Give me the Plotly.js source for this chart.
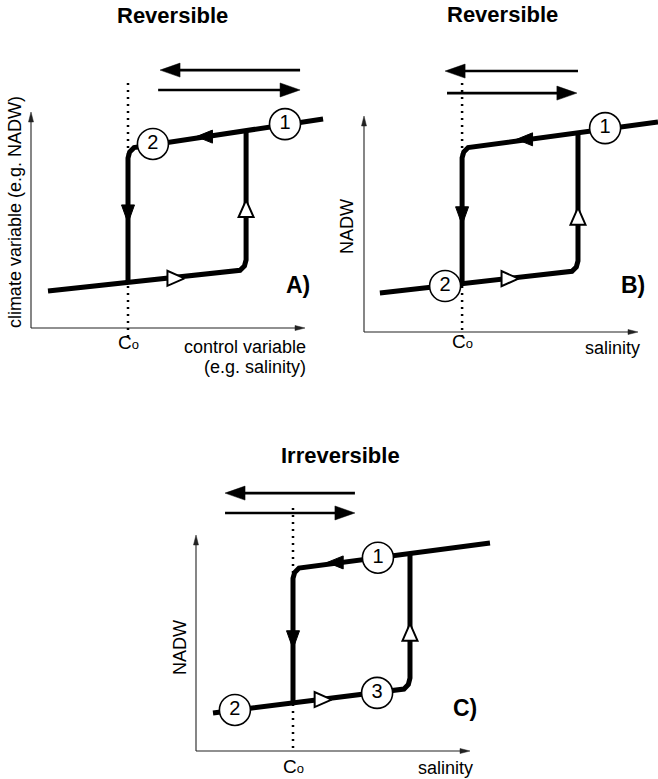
<!DOCTYPE html>
<html><head><meta charset="utf-8">
<script src="https://cdn.plot.ly/plotly-3.0.1.min.js"></script>
<style>html,body{margin:0;padding:0;background:#fff;}#chart{width:658px;height:779px;}</style>
</head><body><div id="chart"></div>
<script>
// ---------- DATA (axis units: origin = 0, axis arrow tip = 10) ----------
// Panel A
const A_upperX = [10.66, 3.98, 3.76, 3.60, 3.54, 3.54];
const A_upperY = [9.68, 8.43, 8.35, 8.15, 7.87, 2.10];
const A_lowerX = [0.62, 7.34, 7.63, 7.79, 7.85, 7.85];
const A_lowerY = [1.71, 2.59, 2.67, 2.87, 3.15, 9.12];
const A_stateX = [9.27, 4.45];
const A_stateY = [9.44, 8.52];
const A_stateLabel = ['1', '2'];
const A_flowX = [3.54, 7.85, 6.33, 5.29];
const A_flowY = [5.28, 5.53, 8.86, 2.30];
const A_flowDir = ['down', 'up', 'left', 'right'];
const A_Co = 3.54;
const A_CoSpan = [11.34, -0.42];
const A_sweepFrom = [9.82, 4.64];
const A_sweepTo = [4.71, 9.82];
const A_sweepY = [11.94, 11.02];

// Panel B
const B_upperX = [10.73, 4.01, 3.80, 3.64, 3.58, 3.58];
const B_upperY = [9.72, 8.61, 8.54, 8.33, 8.06, 2.22];
const B_lowerX = [0.58, 7.37, 7.59, 7.75, 7.81, 7.81];
const B_lowerY = [1.81, 2.73, 2.81, 3.01, 3.29, 9.28];
const B_stateX = [8.80, 2.96];
const B_stateY = [9.44, 2.13];
const B_stateLabel = ['1', '2'];
const B_flowX = [3.58, 7.81, 5.86, 5.33];
const B_flowY = [5.38, 5.36, 8.92, 2.47];
const B_flowDir = ['down', 'up', 'left', 'right'];
const B_Co = 3.58;
const B_CoSpan = [11.53, -0.37];
const B_sweepFrom = [7.81, 3.03];
const B_sweepTo = [2.96, 7.77];
const B_sweepY = [12.08, 11.06];

// Panel C
const C_upperX = [10.73, 3.98, 3.76, 3.60, 3.54, 3.54];
const C_upperY = [9.63, 8.56, 8.47, 8.26, 7.99, 2.19];
const C_lowerX = [0.62, 3.54, 7.37, 7.59, 7.75, 7.81, 7.81];
const C_lowerY = [1.76, 2.22, 2.80, 2.87, 3.08, 3.38, 9.18];
const C_stateX = [6.64, 1.42, 6.61];
const C_stateY = [8.95, 1.90, 2.69];
const C_stateLabel = ['1', '2', '3'];
const C_flowX = [3.54, 7.81, 5.08, 4.64];
const C_flowY = [5.15, 5.50, 8.73, 2.38];
const C_flowDir = ['down', 'up', 'left', 'right'];
const C_Co = 3.54;
const C_CoSpan = [11.25, -0.05];
const C_sweepFrom = [5.80, 1.06];
const C_sweepTo = [1.06, 5.80];
const C_sweepY = [11.94, 11.02];

const titles = ['Reversible', 'Reversible', 'Irreversible'];
const panelLetters = ['A)', 'B)', 'C)'];
const yLabels = ['climate variable (e.g. NADW)', 'NADW', 'NADW'];
const xLabels = [['control variable', '(e.g. salinity)'], ['salinity'], ['salinity']];
const coLabel = 'C<span style="font-size:13px">o</span>';

// ---------- LAYOUT ----------
const W = 658, H = 779, SX = 27.4, SY = 21.6;
const FONT = 'Liberation Sans, Arial, Helvetica, sans-serif';

const panels = [
  {sfx: '', box: [0, 0, 329, 389.5], origin: [31, 328],
   up: [A_upperX, A_upperY], lo: [A_lowerX, A_lowerY], st: [A_stateX, A_stateY, A_stateLabel],
   fl: [A_flowX, A_flowY, A_flowDir], co: A_Co, coSpan: A_CoSpan, sw: [A_sweepFrom, A_sweepTo, A_sweepY],
   titlePos: [5.18, 14.49], coY: -0.69, xlabPos: [10.11, -0.88, -1.81], ylabPos: [-0.58, 5.37], letterPos: [9.74, 1.99]},
  {sfx: '2', box: [329, 0, 658, 389.5], origin: [364, 332],
   up: [B_upperX, B_upperY], lo: [B_lowerX, B_lowerY], st: [B_stateX, B_stateY, B_stateLabel],
   fl: [B_flowX, B_flowY, B_flowDir], co: B_Co, coSpan: B_CoSpan, sw: [B_sweepFrom, B_sweepTo, B_sweepY],
   titlePos: [5.04, 14.68], coY: -0.46, xlabPos: [10.15, -0.74], ylabPos: [-0.62, 4.86], letterPos: [9.82, 2.18]},
  {sfx: '3', box: [0, 389.5, 658, 779], origin: [196, 751],
   up: [C_upperX, C_upperY], lo: [C_lowerX, C_lowerY], st: [C_stateX, C_stateY, C_stateLabel],
   fl: [C_flowX, C_flowY, C_flowDir], co: C_Co, coSpan: C_CoSpan, sw: [C_sweepFrom, C_sweepTo, C_sweepY],
   titlePos: [5.26, 13.66], coY: -0.74, xlabPos: [10.18, -0.79], ylabPos: [-0.58, 4.77], letterPos: [9.82, 1.99]}
];

const DIRS = {up: [0, 1], down: [0, -1], left: [-1, 0], right: [1, 0]};

// triangle polygon (center cx,cy in units; length/width in px)
function tri(cx, cy, dir, len, wid) {
  const [ux, uy] = DIRS[dir];
  const tipX = cx + ux * len / 2 / SX, tipY = cy + uy * len / 2 / SY;
  const bX = cx - ux * len / 2 / SX, bY = cy - uy * len / 2 / SY;
  const px = -uy * wid / 2 / SX, py = ux * wid / 2 / SY;
  return {x: [tipX, bX + px, bX - px, tipX], y: [tipY, bY + py, bY - py, tipY]};
}

const traces = [];
const annotations = [];
const layout = {
  width: W, height: H, margin: {l: 0, r: 0, t: 0, b: 0},
  paper_bgcolor: '#fff', plot_bgcolor: 'rgba(0,0,0,0)', showlegend: false,
  font: {family: FONT, color: '#000'}
};

function addPoly(t, xa, ya, fill, lineW, lineC) {
  traces.push({x: t.x, y: t.y, xaxis: xa, yaxis: ya, mode: 'lines', fill: 'toself',
    fillcolor: fill, line: {color: lineC, width: lineW}, hoverinfo: 'skip'});
}

panels.forEach((p, i) => {
  const xa = 'x' + p.sfx, ya = 'y' + p.sfx;
  const [x0, y0, x1, y1] = p.box;
  const [ox, oy] = p.origin;
  layout['xaxis' + p.sfx] = {domain: [x0 / W, x1 / W], range: [(x0 - ox) / SX, (x1 - ox) / SX],
    visible: false, fixedrange: true, anchor: ya};
  layout['yaxis' + p.sfx] = {domain: [1 - y1 / H, 1 - y0 / H], range: [(oy - y1) / SY, (oy - y0) / SY],
    visible: false, fixedrange: true, anchor: xa};

  // axes with arrowheads
  const AXL = 10, AXW = 5;
  traces.push({x: [0, 10 - AXL * 0.6 / SX], y: [0, 0], xaxis: xa, yaxis: ya, mode: 'lines',
    line: {color: '#222', width: 1.1}, hoverinfo: 'skip'});
  traces.push({x: [0, 0], y: [0, 10 - AXL * 0.6 / SY], xaxis: xa, yaxis: ya, mode: 'lines',
    line: {color: '#222', width: 1.1}, hoverinfo: 'skip'});
  addPoly(tri(10 - AXL / 2 / SX, 0, 'right', AXL, AXW), xa, ya, '#222', 0.5, '#222');
  addPoly(tri(0, 10 - AXL / 2 / SY, 'up', AXL, AXW), xa, ya, '#222', 0.5, '#222');

  // dotted Co line
  traces.push({x: [p.co, p.co], y: p.coSpan, xaxis: xa, yaxis: ya, mode: 'lines',
    line: {color: '#000', width: 2.5, dash: '2px,5px'}, hoverinfo: 'skip'});

  // sweep arrows
  const SWL = 20, SWW = 14;
  for (let k = 0; k < p.sw[0].length; k++) {
    const from = p.sw[0][k], to = p.sw[1][k], yy = p.sw[2][k];
    const s = Math.sign(to - from);
    traces.push({x: [from, to - s * (SWL - 2) / SX], y: [yy, yy], xaxis: xa, yaxis: ya, mode: 'lines',
      line: {color: '#000', width: 2.6}, hoverinfo: 'skip'});
    addPoly(tri(to - s * SWL / 2 / SX, yy, s > 0 ? 'right' : 'left', SWL, SWW), xa, ya, '#000', 0.5, '#000');
  }

  // branches
  traces.push({x: p.lo[0], y: p.lo[1], xaxis: xa, yaxis: ya, mode: 'lines',
    line: {color: '#000', width: 5}, hoverinfo: 'skip'});
  traces.push({x: p.up[0], y: p.up[1], xaxis: xa, yaxis: ya, mode: 'lines',
    line: {color: '#000', width: 5}, hoverinfo: 'skip'});

  // flow arrowheads (filled: decreasing path; open: increasing path)
  p.fl[2].forEach((d, k) => {
    const filled = (d === 'down' || d === 'left');
    if (filled) addPoly(tri(p.fl[0][k], p.fl[1][k], d, d === 'left' ? 16 : 18, 13), xa, ya, '#000', 1, '#000');
    else addPoly(tri(p.fl[0][k], p.fl[1][k], d, 17, 15), xa, ya, '#fff', 2, '#000');
  });

  // state circles
  traces.push({x: p.st[0], y: p.st[1], text: p.st[2], xaxis: xa, yaxis: ya, mode: 'markers+text',
    textposition: 'middle center', cliponaxis: false,
    textfont: {family: FONT, size: 20, color: '#000'},
    marker: {symbol: 'circle', size: 31, color: '#fff', line: {color: '#000', width: 1.6}},
    hoverinfo: 'skip'});

  // texts
  annotations.push({x: p.titlePos[0], y: p.titlePos[1], xref: xa, yref: ya, text: '<b>' + titles[i] + '</b>',
    showarrow: false, font: {family: FONT, size: 22, color: '#000'}, xanchor: 'center', yanchor: 'middle'});
  annotations.push({x: p.co, y: p.coY, xref: xa, yref: ya, text: coLabel, showarrow: false,
    font: {family: FONT, size: 19, color: '#000'}, xanchor: 'center', yanchor: 'middle'});
  xLabels[i].forEach((t, j) => {
    annotations.push({x: p.xlabPos[0], y: p.xlabPos[1 + j], xref: xa, yref: ya, text: t, showarrow: false,
      font: {family: FONT, size: 18, color: '#000'}, xanchor: 'right', yanchor: 'middle'});
  });
  annotations.push({x: p.ylabPos[0], y: p.ylabPos[1], xref: xa, yref: ya, text: yLabels[i], showarrow: false,
    textangle: -90, font: {family: FONT, size: 18, color: '#000'}, xanchor: 'center', yanchor: 'middle'});
  annotations.push({x: p.letterPos[0], y: p.letterPos[1], xref: xa, yref: ya, text: '<b>' + panelLetters[i] + '</b>',
    showarrow: false, font: {family: FONT, size: 23, color: '#000'}, xanchor: 'center', yanchor: 'middle'});
});

layout.annotations = annotations;
Plotly.newPlot('chart', traces, layout, {staticPlot: true, displayModeBar: false});
</script>
</body></html>
